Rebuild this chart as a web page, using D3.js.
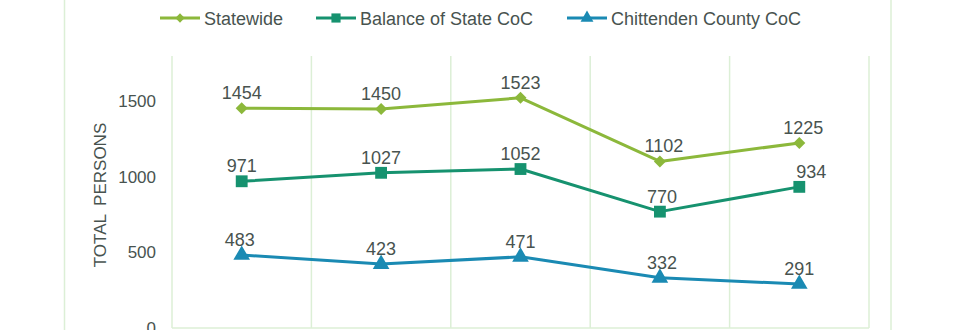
<!DOCTYPE html>
<html><head><meta charset="utf-8">
<script src="https://cdn.jsdelivr.net/npm/d3@7"></script>
<style>body{margin:0;background:#fff;overflow:hidden}text{font-family:"Liberation Sans",Arial,sans-serif}</style>
</head><body><svg id="c" width="960" height="330"></svg>
<script>
const categories = ["2015", "2016", "2017", "2018", "2019"];
const seriesNames = ["Statewide", "Balance of State CoC", "Chittenden County CoC"];
const statewide = [1454, 1450, 1523, 1102, 1225];
const balance = [971, 1027, 1052, 770, 934];
const chittenden = [483, 423, 471, 332, 291];
const yTicks = [0, 500, 1000, 1500];
const yLabel = "TOTAL PERSONS";

const colors = ["#8cb83b", "#16926f", "#1a8ab3"];
const diamond = { draw(ctx, size) { const r = Math.sqrt(size / 2); ctx.moveTo(0, -r); ctx.lineTo(r, 0); ctx.lineTo(0, r); ctx.lineTo(-r, 0); ctx.closePath(); } };
const symbols = [diamond, d3.symbolSquare, d3.symbolTriangle];
const symSizes = [72, 140, 120];
const data = [statewide, balance, chittenden];
const textColor = "#48534f";
const gridColor = "#dcefd6";
const FS = "18px";

const svg = d3.select("#c");
const L = 172, R = 869, T = 56, B = 328;
const x = d3.scaleBand().domain(categories).range([L, R]);
const y = d3.scaleLinear().domain([0, 1800]).range([B, T]);

// outer chart border
svg.append("line").attr("x1", 64.5).attr("x2", 64.5).attr("y1", 0).attr("y2", 330).attr("stroke", gridColor).attr("stroke-width", 1.5);
svg.append("line").attr("x1", 891).attr("x2", 891).attr("y1", 0).attr("y2", 330).attr("stroke", gridColor).attr("stroke-width", 1.5);

// vertical gridlines at category boundaries
const bounds = categories.map(c => x(c)).concat([R]);
svg.selectAll("line.vg").data(bounds).join("line")
  .attr("x1", d => d).attr("x2", d => d).attr("y1", T).attr("y2", B)
  .attr("stroke", gridColor).attr("stroke-width", 1.5);
svg.append("line").attr("x1", L).attr("x2", R).attr("y1", B).attr("y2", B).attr("stroke", gridColor).attr("stroke-width", 1.5);

// y axis
const yAxis = d3.axisLeft(y).tickValues(yTicks).tickFormat(d3.format("d")).tickSize(0).tickPadding(16);
const ga = svg.append("g").attr("transform", `translate(${L},0)`).call(yAxis);
ga.select(".domain").remove();
ga.selectAll("text").attr("fill", textColor).style("font-size", "17px").style("font-family", '"Liberation Sans",Arial,sans-serif');

svg.append("text").attr("transform", `translate(106,195) rotate(-90)`).attr("text-anchor", "middle")
  .attr("fill", textColor).style("font-size", "17px").style("word-spacing", "4px").text(yLabel);

const cx = c => x(c) + x.bandwidth() / 2;
const line = d3.line().x((d, i) => cx(categories[i])).y(d => y(d));
const dx = [[0, 0, 0, 4, 4], [0, 0, 0, 2, 12], [-2, 0, 0, 2, 0]];

data.forEach((vals, s) => {
  svg.append("path").datum(vals).attr("d", line).attr("fill", "none")
    .attr("stroke", colors[s]).attr("stroke-width", 3).attr("stroke-linejoin", "round");
  svg.selectAll("path.m" + s).data(vals).join("path")
    .attr("d", d3.symbol().type(symbols[s]).size(symSizes[s]))
    .attr("transform", (d, i) => `translate(${cx(categories[i])},${y(d)})`)
    .attr("fill", colors[s]);
  svg.selectAll("text.l" + s).data(vals).join("text")
    .attr("x", (d, i) => cx(categories[i]) + dx[s][i])
    .attr("y", d => y(d) - 9)
    .attr("text-anchor", "middle").attr("fill", textColor).style("font-size", FS)
    .text(d => d);
});

// legend
const legX = [160, 316, 567];
const leg = svg.append("g");
seriesNames.forEach((n, s) => {
  const g = leg.append("g").attr("transform", `translate(${legX[s]},18)`);
  g.append("line").attr("x1", 0).attr("x2", 40).attr("stroke", colors[s]).attr("stroke-width", 3);
  g.append("path").attr("d", d3.symbol().type(symbols[s]).size(symSizes[s] * 0.6)).attr("transform", "translate(20,0)").attr("fill", colors[s]);
  g.append("text").attr("x", 44).attr("y", 6.5).attr("fill", textColor).style("font-size", FS).text(n);
});
</script></body></html>
